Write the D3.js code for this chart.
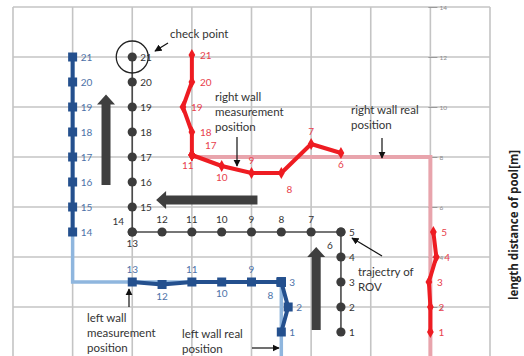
<!DOCTYPE html>
<html>
<head>
<meta charset="utf-8">
<script src="https://cdn.jsdelivr.net/npm/d3@7"></script>
<style>
  html, body { margin: 0; padding: 0; background: #fff; }
  svg { display: block; }
</style>
</head>
<body>
<svg id="chart" width="524" height="356"></svg>
<script>
// ---- data (pool coordinates in metres) ----
// ROV trajectory, points 1..21
const rovX = [11, 11, 11, 11, 11, 11, 10, 9, 8, 7, 6, 5, 4, 4, 4, 4, 4, 4, 4, 4, 4];
const rovY = [1, 2, 3, 4, 5, 5, 5, 5, 5, 5, 5, 5, 5, 5, 6, 7, 8, 9, 10, 11, 12];

// left wall measurement position, points 1..21
const leftX = [9, 9.23, 9, 9, 9, 9, 9, 9, 8, 7, 6, 5, 4, 2, 2, 2, 2, 2, 2, 2, 2];
const leftY = [1, 2, 3, 3, 3, 3, 3, 3, 3, 3, 3, 2.9, 3, 5, 6, 7, 8, 9, 10, 11, 12];

// right wall measurement position, points 1..21
const rightX = [14, 14, 13.95, 14.2, 14.1, 11, 10, 9, 8, 7, 6, 6, 6, 6, 6, 6, 6, 6, 5.7, 6, 6];
const rightY = [1, 2, 3, 4, 5, 8.16, 8.52, 7.36, 7.36, 7.64, 8.08, 8.08, 8.08, 8.08, 8.08, 8.08, 8.08, 9, 10, 11, 12.08];

// real wall positions
const leftWallX = [2, 2, 9, 9];
const leftWallY = [12, 3, 3, 0];
const rightWallX = [6, 14, 14];
const rightWallY = [8, 8, 0];

// axis ticks and grid
const yGrid = [0, 2, 4, 6, 8, 10, 12, 14];
const yTickLabels = [2, 4, 6, 8, 10, 12, 14];
const xGrid = [0, 2, 4, 6, 8, 10, 12, 14, 16];

// ---- layout ----
const svg = d3.select("#chart");
const x = d3.scaleLinear().domain([0, 16]).range([13, 490]);
const y = d3.scaleLinear().domain([0, 14]).range([357, 7]);
const FONT = "Lato, 'Open Sans', sans-serif";

const pts = (xs, ys) => xs.map((v, i) => ({ n: i + 1, x: v, y: ys[i] }));
const rov = pts(rovX, rovY);
const left = pts(leftX, leftY);
const right = pts(rightX, rightY);
const leftWall = pts(leftWallX, leftWallY);
const rightWall = pts(rightWallX, rightWallY);

const line = d3.line().x(d => x(d.x)).y(d => y(d.y));

// grid
const grid = svg.append("g").attr("stroke", "#c4c4c4").attr("stroke-width", 1.6);
grid.selectAll("line.v").data(xGrid).join("line")
  .attr("x1", d => x(d)).attr("x2", d => x(d))
  .attr("y1", y(14)).attr("y2", 356);
grid.selectAll("line.h").data(yGrid).join("line")
  .attr("x1", x(0)).attr("x2", x(16))
  .attr("y1", d => y(d)).attr("y2", d => y(d));

// right-hand metre axis
const axis = svg.append("g")
  .attr("transform", `translate(${x(14)},0)`)
  .call(d3.axisRight(y).tickValues(yTickLabels).tickSize(7).tickFormat(d3.format("d")));
axis.select(".domain").remove();
axis.selectAll(".tick line").attr("x1", -2).attr("stroke", "#9a9a9a").attr("stroke-width", 1);
axis.selectAll(".tick text")
  .attr("x", 9).attr("fill", "#8a8a8a")
  .style("font-family", FONT).style("font-size", "6.5px");

// real wall positions
svg.append("path").datum(leftWall).attr("d", line)
  .attr("fill", "none").attr("stroke", "#8fb6de").attr("stroke-width", 3.5);
svg.append("path").datum(rightWall).attr("d", line)
  .attr("fill", "none").attr("stroke", "#e8a4ac").attr("stroke-width", 4);

// ROV trajectory
svg.append("path").datum(rov).attr("d", line)
  .attr("fill", "none").attr("stroke", "#4a4a4a").attr("stroke-width", 1.6);
svg.selectAll("circle.rov").data(rov).join("circle")
  .attr("cx", d => x(d.x)).attr("cy", d => y(d.y)).attr("r", 4.6)
  .attr("fill", "#3c3c3c");

// left wall measurement (break between 13 and 14)
const leftSegs = [left.slice(0, 13), left.slice(13)];
svg.selectAll("path.lw").data(leftSegs).join("path")
  .attr("d", line).attr("fill", "none")
  .attr("stroke", "#24508e").attr("stroke-width", 4).attr("stroke-linejoin", "round");
svg.selectAll("rect.lw").data(left).join("rect")
  .attr("x", d => x(d.x) - 4.5).attr("y", d => y(d.y) - 4.5)
  .attr("width", 9).attr("height", 9).attr("fill", "#24508e");

// right wall measurement (break between 5 and 6)
const rightSegs = [right.slice(0, 5), right.slice(5)];
svg.selectAll("path.rw").data(rightSegs).join("path")
  .attr("d", line).attr("fill", "none")
  .attr("stroke", "#ee1c22").attr("stroke-width", 4).attr("stroke-linejoin", "round");
svg.selectAll("path.rwm").data(right).join("path")
  .attr("d", d3.symbol(d3.symbolDiamond, 40))
  .attr("transform", d => `translate(${x(d.x)},${y(d.y)})`)
  .attr("fill", "#ee1c22");

// point number labels
const place = {
  r: [8, 4, "start"], t: [0, -9, "middle"], b: [0, 15, "middle"],
  bl: [-11, 17, "middle"], tl: [-14, -7, "middle"], tr: [19, -6, "middle"],
  br: [8, 20, "middle"], bw: [-4, 14, "middle"]
};
const rovPlace = { 6: "bl", 7: "t", 8: "t", 9: "t", 10: "t", 11: "t", 12: "t", 13: "b", 14: "tl" };
const leftPlace = { 8: "bl", 9: "t", 10: "b", 11: "t", 12: "b", 13: "t" };
const rightPlace = { 6: "b", 7: "t", 8: "br", 9: "t", 10: "b", 11: "bw", 17: "tr" };
const rovShown = d3.range(1, 22);
const leftShown = [1, 2, 3, 8, 9, 10, 11, 12, 13, 14, 15, 16, 17, 18, 19, 20, 21];
const rightShown = [1, 2, 3, 4, 5, 6, 7, 8, 9, 10, 11, 17, 18, 19, 20, 21];

function labels(series, shown, over, color) {
  const g = svg.append("g").style("font-family", FONT).style("font-size", "10px").attr("fill", color);
  g.selectAll("text").data(series.filter(d => shown.includes(d.n))).join("text")
    .attr("x", d => x(d.x) + place[over[d.n] || "r"][0])
    .attr("y", d => y(d.y) + place[over[d.n] || "r"][1])
    .attr("text-anchor", d => place[over[d.n] || "r"][2])
    .text(d => d.n);
}
labels(rov, rovShown, rovPlace, "#333");
labels(left, leftShown, leftPlace, "#4d72a8");
labels(right, rightShown, rightPlace, "#e8404c");

// check point circle around the last ROV point
const last = rov[rov.length - 1];
svg.append("circle").attr("cx", x(last.x)).attr("cy", y(last.y)).attr("r", 16)
  .attr("fill", "none").attr("stroke", "#222").attr("stroke-width", 1.3);

// heading arrows (direction of travel)
const heading = [
  { x1: 3.12, y1: 6.88, x2: 3.12, y2: 10.5 },
  { x1: 8.2, y1: 6.28, x2: 4.8, y2: 6.28 },
  { x1: 10.17, y1: 1.08, x2: 10.17, y2: 4.4 }
];
function blockArrow(d) {
  const ax = x(d.x1), ay = y(d.y1), bx = x(d.x2), by = y(d.y2);
  const len = Math.hypot(bx - ax, by - ay), ux = (bx - ax) / len, uy = (by - ay) / len;
  const px = -uy, py = ux, sw = 4.5, hw = 9, hl = 10;
  const hx = bx - ux * hl, hy = by - uy * hl;
  const p = [
    [ax + px * sw, ay + py * sw], [hx + px * sw, hy + py * sw], [hx + px * hw, hy + py * hw],
    [bx, by], [hx - px * hw, hy - py * hw], [hx - px * sw, hy - py * sw], [ax - px * sw, ay - py * sw]
  ];
  return "M" + p.map(q => q.join(",")).join("L") + "Z";
}
svg.selectAll("path.heading").data(heading).join("path")
  .attr("d", blockArrow).attr("fill", "#3f3f3f");

// annotation pointers
svg.append("defs").append("marker")
  .attr("id", "tip").attr("viewBox", "0 0 10 10").attr("refX", 9).attr("refY", 5)
  .attr("markerWidth", 6).attr("markerHeight", 6).attr("orient", "auto")
  .append("path").attr("d", "M0,0L10,5L0,10Z").attr("fill", "#111");
const pointers = [
  [168, 43, 155, 51],
  [237, 137, 237, 166],
  [382, 138, 382, 158],
  [382, 256, 352, 238],
  [129, 307, 129, 289],
  [252, 348, 279, 348]
];
svg.selectAll("line.ptr").data(pointers).join("line")
  .attr("x1", d => d[0]).attr("y1", d => d[1]).attr("x2", d => d[2]).attr("y2", d => d[3])
  .attr("stroke", "#111").attr("stroke-width", 1.2).attr("marker-end", "url(#tip)");

const notes = [
  { x: 170, y: 38, lines: ["check point"] },
  { x: 215, y: 101, lines: ["right wall", "measurement", "position"] },
  { x: 351, y: 114, lines: ["right wall real", "position"] },
  { x: 358, y: 276, lines: ["trajectry of", "ROV"] },
  { x: 87, y: 322, lines: ["left wall", "measurement", "position"] },
  { x: 182, y: 338, lines: ["left wall real", "position"] }
];
const ng = svg.append("g").style("font-family", FONT).style("font-size", "11.5px").attr("fill", "#333");
notes.forEach(n => {
  const t = ng.append("text").attr("x", n.x).attr("y", n.y);
  n.lines.forEach((s, i) => t.append("tspan").attr("x", n.x).attr("dy", i ? 15 : 0).text(s));
});

// axis title
svg.append("text")
  .attr("transform", "translate(518,225) rotate(-90)")
  .attr("text-anchor", "middle")
  .style("font-family", "'Open Sans', sans-serif").style("font-size", "11.5px").style("font-weight", "bold")
  .attr("fill", "#222")
  .text("length distance of pool[m]");
</script>
</body>
</html>
